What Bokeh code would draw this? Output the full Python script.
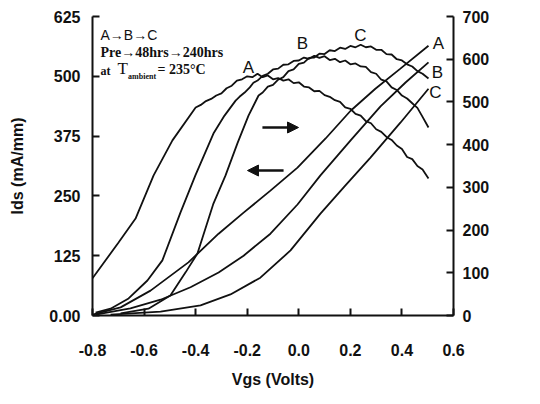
import math
from bokeh.plotting import figure
from bokeh.models import (Range1d, LinearAxis, FixedTicker, PrintfTickFormatter,
                          Label, Arrow, NormalHead)
from bokeh.embed import file_html
from bokeh.resources import INLINE

# ---------------- data ----------------
# Drain current Ids (mA/mm), left axis
vgs_ids_a = [-0.800, -0.691, -0.575, -0.428, -0.311, -0.214, -0.110, -0.005, 0.104, 0.201, 0.297, 0.394, 0.503]
ids_a     = [2, 17, 52, 111, 171, 215, 261, 309, 370, 428, 474, 516, 564]
vgs_ids_b = [-0.788, -0.653, -0.536, -0.420, -0.311, -0.214, -0.110, -0.005, 0.084, 0.201, 0.317, 0.414, 0.503]
ids_b     = [2, 15, 33, 59, 90, 125, 171, 232, 293, 366, 437, 487, 529]
vgs_ids_c = [-0.730, -0.536, -0.381, -0.265, -0.149, -0.032, 0.084, 0.181, 0.278, 0.394, 0.503]
ids_c     = [2, 8, 21, 44, 79, 136, 213, 272, 330, 403, 474]

# Transconductance Gm (mS/mm), right axis (measured traces are noisy)
vgs_gm_a = [-0.800, -0.699, -0.633, -0.563, -0.490, -0.40, -0.38, -0.36, -0.34, -0.32, -0.30,
            -0.28, -0.26, -0.24, -0.22, -0.20, -0.18, -0.16, -0.14, -0.12, -0.10, -0.08, -0.06,
            -0.04, -0.02, 0.00, 0.02, 0.04, 0.06, 0.08, 0.10, 0.12, 0.14, 0.16, 0.18, 0.20, 0.22,
            0.24, 0.26, 0.28, 0.30, 0.32, 0.34, 0.36, 0.38, 0.40, 0.42, 0.44, 0.46, 0.48, 0.503]
gm_a     = [87, 171, 227, 328, 410, 487, 493, 502, 507, 515, 520,
            532, 538, 550, 553, 560, 558, 566, 558, 562, 553, 556, 550,
            553, 544, 546, 536, 534, 525, 526, 516, 512, 504, 500, 487, 484, 472,
            468, 455, 450, 436, 430, 418, 411, 398, 390, 371, 366, 350, 342, 321]
vgs_gm_b = [-0.788, -0.730, -0.660, -0.587, -0.529, -0.459, -0.401, -0.331, -0.288, -0.245,
            -0.23, -0.21, -0.19, -0.176, -0.16, -0.14, -0.12, -0.10, -0.08, -0.06, -0.04, -0.02,
            0.00, 0.02, 0.04, 0.06, 0.08, 0.10, 0.12, 0.14, 0.16, 0.18, 0.20, 0.22, 0.24, 0.26,
            0.28, 0.30, 0.32, 0.34, 0.36, 0.38, 0.40, 0.42, 0.44, 0.46, 0.48, 0.503]
gm_b     = [7, 16, 40, 82, 129, 241, 328, 426, 468, 503,
            512, 522, 534, 545, 550, 561, 566, 576, 578, 587, 588, 596,
            597, 604, 601, 608, 603, 607, 598, 601, 593, 597, 588, 590, 583, 582,
            570, 566, 552, 548, 534, 528, 515, 508, 497, 486, 465, 440]
vgs_gm_c = [-0.691, -0.583, -0.498, -0.439, -0.393, -0.331, -0.284, -0.238, -0.195, -0.156,
            -0.14, -0.12, -0.10, -0.08, -0.06, -0.04, -0.02, 0.00, 0.02, 0.04, 0.06, 0.08, 0.10,
            0.12, 0.14, 0.16, 0.18, 0.20, 0.22, 0.24, 0.26, 0.28, 0.30, 0.32, 0.34, 0.36, 0.38,
            0.40, 0.42, 0.44, 0.46, 0.48, 0.503]
gm_c     = [5, 16, 47, 101, 145, 262, 328, 403, 468, 515,
            522, 536, 540, 552, 558, 572, 576, 589, 592, 603, 604, 613, 612,
            621, 619, 627, 624, 631, 628, 634, 628, 630, 622, 622, 612, 611, 600,
            597, 588, 583, 572, 566, 555]

x_ticks = [-0.8, -0.6, -0.4, -0.2, 0.0, 0.2, 0.4, 0.6]
ids_ticks = [0, 125, 250, 375, 500, 625]
gm_ticks = [0, 100, 200, 300, 400, 500, 600, 700]

# ---------------- figure ----------------
SANS = "Liberation Sans"
SERIF = "Liberation Serif"
INK = "#111111"

p = figure(width=540, height=404, output_backend="svg", toolbar_location=None,
           x_range=Range1d(-0.8, 0.6), y_range=Range1d(0, 625),
           min_border_left=92, min_border_right=87, min_border_top=16, min_border_bottom=89)
p.extra_y_ranges = {"gm": Range1d(0, 700)}
p.outline_line_color = None
p.xgrid.visible = False
p.ygrid.visible = False
p.background_fill_color = "white"
p.border_fill_color = "white"

def style_axis(ax, standoff):
    ax.axis_line_color = INK
    ax.axis_line_width = 2
    ax.major_tick_line_color = INK
    ax.major_tick_line_width = 2
    ax.major_tick_in = 7
    ax.major_tick_out = 0
    ax.minor_tick_line_color = None
    ax.major_label_text_font = SANS
    ax.major_label_text_font_style = "bold"
    ax.major_label_text_font_size = "16px"
    ax.major_label_text_color = INK
    ax.major_label_standoff = standoff
    ax.axis_label_text_font = SANS
    ax.axis_label_text_font_style = "bold"
    ax.axis_label_text_font_size = "16px"
    ax.axis_label_text_color = INK

xa = p.xaxis[0]
xa.ticker = FixedTicker(ticks=x_ticks)
xa.formatter = PrintfTickFormatter(format="%.1f")
xa.axis_label = "Vgs (Volts)"
style_axis(xa, 28)
xa.axis_label_standoff = 12

ya = p.yaxis[0]
ya.ticker = FixedTicker(ticks=ids_ticks)
ya.major_label_overrides = {0: "0.00"}
ya.axis_label = "Ids (mA/mm)"
style_axis(ya, 12)
ya.axis_label_standoff = 20

ra = LinearAxis(y_range_name="gm", ticker=FixedTicker(ticks=gm_ticks))
style_axis(ra, 9)
p.add_layout(ra, "right")

# Right axis title, reading bottom to top
p.add_layout(Label(x=0.899, y=303, text="Gm (mS/mm)", angle=math.pi / 2,
                   text_align="center", text_baseline="middle",
                   text_font=SANS, text_font_size="17px", text_color=INK))

# ---------------- curves ----------------
lw = 1.8
p.line(vgs_ids_a, ids_a, line_color=INK, line_width=lw)
p.line(vgs_ids_b, ids_b, line_color=INK, line_width=lw)
p.line(vgs_ids_c, ids_c, line_color=INK, line_width=lw)
p.line(vgs_gm_a, gm_a, line_color=INK, line_width=lw, y_range_name="gm")
p.line(vgs_gm_b, gm_b, line_color=INK, line_width=lw, y_range_name="gm")
p.line(vgs_gm_c, gm_c, line_color=INK, line_width=lw, y_range_name="gm")

# ---------------- annotations ----------------
def lab(x, y, t, size, font=SANS, style="normal"):
    p.add_layout(Label(x=x, y=y, text=t, text_font=font, text_font_size=size,
                       text_font_style=style, text_color=INK,
                       text_align="left", text_baseline="middle"))

lab(-0.769, 587, "A\u2192B\u2192C", "14px")
lab(-0.769, 550, "Pre\u219248hrs\u2192240hrs", "14px", SERIF, "bold")
lab(-0.769, 512, "at", "12px", SERIF, "bold")
lab(-0.703, 516, "T", "17px", SERIF)
lab(-0.662, 500, "ambient", "8px", SERIF, "bold")
lab(-0.548, 514, "= 235\u00b0C", "14px", SERIF, "bold")

def clab(x, y, t):
    p.add_layout(Label(x=x, y=y, text=t, text_font=SANS, text_font_size="17px",
                       text_color=INK, text_align="center", text_baseline="middle"))

clab(-0.195, 518, "A")
clab(0.014, 568, "B")
clab(0.239, 585, "C")
clab(0.542, 568, "A")
clab(0.538, 508, "B")
clab(0.530, 466, "C")

p.add_layout(Arrow(end=NormalHead(size=11, fill_color=INK, line_color=INK),
                   x_start=-0.141, y_start=393, x_end=-0.001, y_end=393,
                   line_width=2.5, line_color=INK))
p.add_layout(Arrow(end=NormalHead(size=11, fill_color=INK, line_color=INK),
                   x_start=-0.059, y_start=303, x_end=-0.199, y_end=303,
                   line_width=2.5, line_color=INK))

open("out.html", "w").write(file_html(p, INLINE))
